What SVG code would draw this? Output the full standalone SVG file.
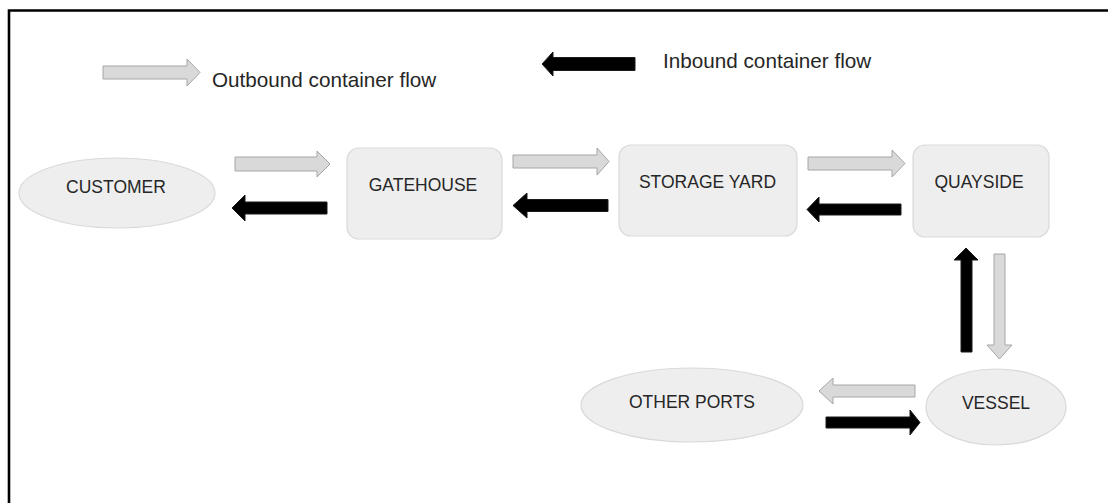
<svg xmlns="http://www.w3.org/2000/svg" width="1108" height="503" viewBox="0 0 1108 503">
<style>
.node{fill:#eeeeee;stroke:#d9d9d9;stroke-width:1.2}
.lbl{font-family:"Liberation Sans",Arial,sans-serif;font-size:17.5px;fill:#262626;text-anchor:middle}
.leg{font-family:"Liberation Sans",Arial,sans-serif;font-size:20.7px;fill:#262626}
.out{fill:#d9d9d9;stroke:#a6a6a6;stroke-width:1}
.in{fill:#000;stroke:#1a1a1a;stroke-width:1}
</style>
<rect width="1108" height="503" fill="#fff"/>
<path d="M9,503 V10.5 H1108" fill="none" stroke="#000" stroke-width="2.6"/>
<g id="legend">
<path class="out" d="M103,66 H187 V59 L200,72.5 L187,86 V79 H103 Z"/>
<text class="leg" x="212" y="87">Outbound container flow</text>
<path class="in" d="M542,64 L553,52 V57.5 H635 V70.5 H553 V76 Z"/>
<text class="leg" x="663" y="68">Inbound container flow</text>
</g>
<g id="connectors">
<path class="out" d="M235,157 H317 V151 L330,164 L317,177 V171 H235 Z"/>
<path class="in" d="M232,208 L245,195 V202 H327 V214 H245 V221 Z"/>
<path class="out" d="M513,155 H597 V148 L609,161.5 L597,175 V168 H513 Z"/>
<path class="in" d="M513,205.5 L527,193 V199.5 H608 V211.5 H527 V218 Z"/>
<path class="out" d="M808,157 H892 V150 L905,163.5 L892,177 V170 H808 Z"/>
<path class="in" d="M807,209.5 L819,197 V204 H901 V215 H819 V222 Z"/>
<path class="in" d="M966,248 L978,260 H972 V352 H961 V260 H954 Z"/>
<path class="out" d="M994,254 H1005 V345 H1012 L999.5,359 L987,345 H994 Z"/>
<path class="out" d="M819,391 L833,378 V385 H915 V397 H833 V404 Z"/>
<path class="in" d="M826,417 H910 V410 L920,422.5 L910,435 V428 H826 Z"/>
</g>
<g id="customer">
<ellipse class="node" cx="117" cy="193" rx="98" ry="35"/>
<text class="lbl" x="116" y="193">CUSTOMER</text>
</g>
<g id="gatehouse">
<rect class="node" x="347" y="148" width="155" height="91" rx="12"/>
<text class="lbl" x="423" y="191">GATEHOUSE</text>
</g>
<g id="storage-yard">
<rect class="node" x="619" y="145" width="178" height="91" rx="12"/>
<text class="lbl" x="707.5" y="188">STORAGE YARD</text>
</g>
<g id="quayside">
<rect class="node" x="913" y="145" width="136" height="92" rx="12"/>
<text class="lbl" x="979" y="188">QUAYSIDE</text>
</g>
<g id="other-ports">
<ellipse class="node" cx="692" cy="405" rx="111" ry="37"/>
<text class="lbl" x="692" y="408">OTHER PORTS</text>
</g>
<g id="vessel">
<ellipse class="node" cx="996" cy="407" rx="70" ry="38"/>
<text class="lbl" x="996" y="409">VESSEL</text>
</g>
</svg>
